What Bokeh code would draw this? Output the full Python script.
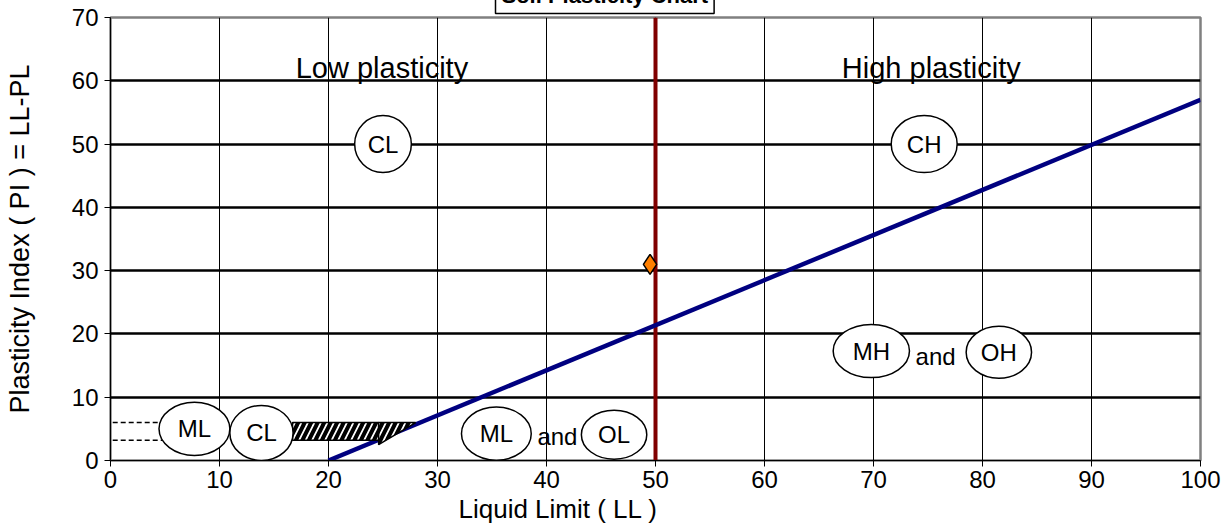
from bokeh.plotting import figure
from bokeh.models import FixedTicker, Range1d, Title
from bokeh.core.properties import value
from bokeh.embed import file_html
from bokeh.resources import INLINE

# ---- data ----
x_ticks = [0, 10, 20, 30, 40, 50, 60, 70, 80, 90, 100]
y_ticks = [0, 10, 20, 30, 40, 50, 60, 70]

a_line_ll = [20, 100]
a_line_pi = [0, 57]

ll_boundary = [50, 50]
ll_boundary_pi = [0, 70]

sample_ll = [49.5]
sample_pi = [31]

zone_names = ["CL", "CH", "ML", "CL", "ML", "OL", "MH", "OH"]
zone_ll = [25.0, 74.65, 7.7, 13.85, 35.4, 46.2, 69.8, 81.5]
zone_pi = [50.0, 50.0, 5.0, 4.35, 4.24, 4.08, 17.3, 17.1]
zone_w = [5.2, 6.05, 6.5, 5.8, 6.4, 6.0, 7.0, 6.0]
zone_h = [9.0, 9.0, 8.4, 8.7, 8.4, 7.75, 8.4, 8.2]

and_ll = [41.0, 75.7]
and_pi = [3.8, 16.4]

region_names = ["Low plasticity", "High plasticity"]
region_ll = [24.9, 75.3]
region_pi = [62.0, 62.0]

hatch_left, hatch_right, hatch_bottom, hatch_top = [16.7], [24.6], [3.2], [6.0]
tri_ll = [24.6, 28.0, 24.6]
tri_pi = [6.0, 6.0, 2.5]

dash_pi = [6.0, 3.2]
dash_ll0 = [-2, -2]
dash_ll1 = [5, 5]

FONT = "Liberation Sans"
SHIFT = 30

p = figure(width=1225, height=531 + SHIFT, x_range=Range1d(0, 100), y_range=Range1d(0, 70),
           output_backend="svg", toolbar_location=None,
           min_border_left=110, min_border_right=25, min_border_top=0, min_border_bottom=71)
p.styles = {"margin-top": f"-{SHIFT}px"}

p.title.text = "Soil Plasticity Chart"
p.title.text_font = FONT
p.title.text_font_style = "bold"
p.title.text_font_size = "22px"
p.title.text_color = "black"
p.title.align = "left"
p.title.offset = 385
p.title.standoff = 8
p.title.border_line_color = "black"
p.title.border_line_width = 1.5
p.title.background_fill_color = "white"
p.title.padding = 6

p.xaxis.ticker = FixedTicker(ticks=x_ticks)
p.yaxis.ticker = FixedTicker(ticks=y_ticks)
p.xgrid.ticker = FixedTicker(ticks=x_ticks[1:-1])
p.ygrid.ticker = FixedTicker(ticks=y_ticks[1:-1])
p.xgrid.grid_line_color = "black"
p.xgrid.grid_line_width = 1
p.ygrid.grid_line_color = "black"
p.ygrid.grid_line_width = 2.5
p.outline_line_color = "#808080"
p.outline_line_width = 2.5

for ax in (p.xaxis, p.yaxis):
    ax.axis_line_color = "black"
    ax.axis_line_width = 1
    ax.major_tick_out = 6
    ax.major_tick_in = 0
    ax.minor_tick_line_color = None
    ax.major_tick_line_color = "black"
    ax.major_label_text_font = FONT
    ax.major_label_text_font_size = "24px"
    ax.major_label_text_color = "black"
    ax.axis_label_text_font = FONT
    ax.axis_label_text_font_style = "normal"
    ax.axis_label_text_color = "black"
p.xaxis.major_label_standoff = 4
p.yaxis.major_label_standoff = 6

p.yaxis.axis_label = "Plasticity Index ( PI ) = LL-PL"
p.yaxis.axis_label_text_font_size = "27px"
p.yaxis.axis_label_standoff = 34

# x axis title, placed left of centre as in the reference
p.add_layout(Title(text="Liquid Limit ( LL )", text_font=FONT, text_font_size="26px",
                   text_font_style="normal", text_color="black",
                   align="left", offset=348, standoff=3), "below")

# boundary lines
p.line(ll_boundary, ll_boundary_pi, line_color="#800000", line_width=4)
p.line(a_line_ll, a_line_pi, line_color="#000080", line_width=4.5)

# hatched CL-ML zone
p.quad(left=hatch_left, right=hatch_right, bottom=hatch_bottom, top=hatch_top,
       fill_color="white", line_color="black", line_width=1.5,
       hatch_pattern="/", hatch_color="black", hatch_weight=4, hatch_scale=13)
p.patch(tri_ll, tri_pi, fill_color="white", line_color="black", line_width=1.5,
        hatch_pattern="/", hatch_color="black", hatch_weight=4, hatch_scale=13)
p.segment(x0=dash_ll0, y0=dash_pi, x1=dash_ll1, y1=dash_pi,
          line_color="black", line_width=1.5, line_dash="5 3")

# zone ellipses
p.ellipse(x=zone_ll, y=zone_pi, width=zone_w, height=zone_h,
          fill_color="white", line_color="black", line_width=1.5)
p.text(x=zone_ll, y=zone_pi, text=zone_names, text_font=value(FONT), text_font_size="24px",
       text_align="center", text_baseline="middle", text_color="black")
p.text(x=and_ll, y=and_pi, text=["and", "and"], text_font=value(FONT), text_font_size="24px",
       text_align="center", text_baseline="middle", text_color="black")
p.text(x=region_ll, y=region_pi, text=region_names, text_font=value(FONT), text_font_size="29px",
       text_align="center", text_baseline="middle", text_color="black")

# sample point
p.scatter(sample_ll, sample_pi, marker="diamond", size=20, fill_color="#FF7F00",
          line_color="black", line_width=1.5)

open("out.html", "w").write(file_html(p, INLINE))
